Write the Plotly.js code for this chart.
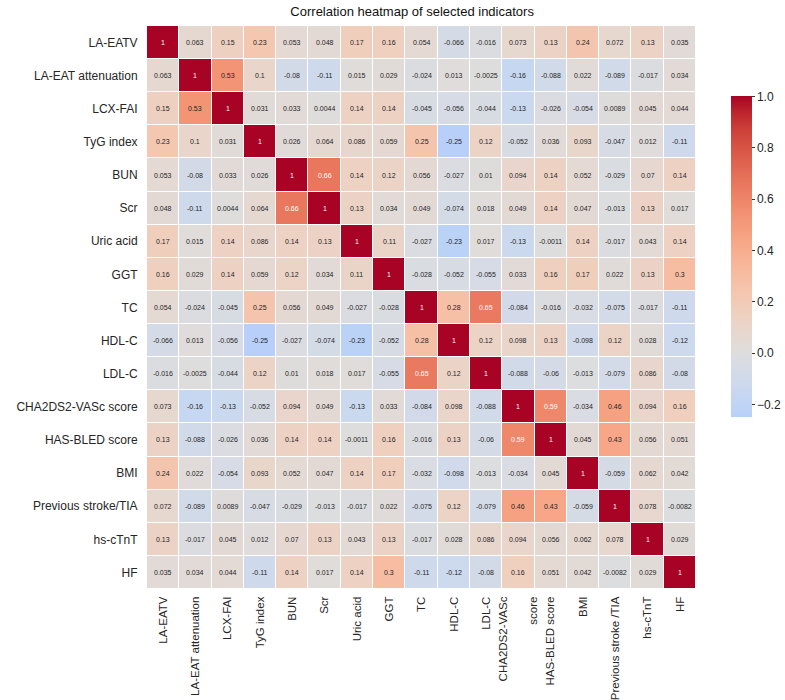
<!DOCTYPE html>
<html>
<head>
<meta charset="utf-8">
<script src="https://cdn.plot.ly/plotly-3.0.1.min.js"></script>
<style>
    body { margin: 0; background: #ffffff; }
    #chart { width: 785px; height: 700px; }
</style>
</head>
<body>
<div id="chart"></div>
<script>
// ---------- Data ---------- //
const rowLabels = [
    "LA-EATV", "LA-EAT attenuation", "LCX-FAI", "TyG index", "BUN", "Scr",
    "Uric acid", "GGT", "TC", "HDL-C", "LDL-C", "CHA2DS2-VASc score",
    "HAS-BLED score", "BMI", "Previous stroke/TIA", "hs-cTnT", "HF"
];

const colLabels = [
    "LA-EATV", "LA-EAT attenuation", "LCX-FAI", "TyG index", "BUN", "Scr",
    "Uric acid", "GGT", "TC", "HDL-C", "LDL-C", "CHA2DS2-VASc<br><br>score",
    "HAS-BLED score", "BMI", "Previous stroke /TIA", "hs-cTnT", "HF"
];

const corrValues = [
    [1, 0.063, 0.15, 0.23, 0.053, 0.048, 0.17, 0.16, 0.054, -0.066, -0.016, 0.073, 0.13, 0.24, 0.072, 0.13, 0.035],
    [0.063, 1, 0.53, 0.1, -0.08, -0.11, 0.015, 0.029, -0.024, 0.013, -0.0025, -0.16, -0.088, 0.022, -0.089, -0.017, 0.034],
    [0.15, 0.53, 1, 0.031, 0.033, 0.0044, 0.14, 0.14, -0.045, -0.056, -0.044, -0.13, -0.026, -0.054, 0.0089, 0.045, 0.044],
    [0.23, 0.1, 0.031, 1, 0.026, 0.064, 0.086, 0.059, 0.25, -0.25, 0.12, -0.052, 0.036, 0.093, -0.047, 0.012, -0.11],
    [0.053, -0.08, 0.033, 0.026, 1, 0.66, 0.14, 0.12, 0.056, -0.027, 0.01, 0.094, 0.14, 0.052, -0.029, 0.07, 0.14],
    [0.048, -0.11, 0.0044, 0.064, 0.66, 1, 0.13, 0.034, 0.049, -0.074, 0.018, 0.049, 0.14, 0.047, -0.013, 0.13, 0.017],
    [0.17, 0.015, 0.14, 0.086, 0.14, 0.13, 1, 0.11, -0.027, -0.23, 0.017, -0.13, -0.0011, 0.14, -0.017, 0.043, 0.14],
    [0.16, 0.029, 0.14, 0.059, 0.12, 0.034, 0.11, 1, -0.028, -0.052, -0.055, 0.033, 0.16, 0.17, 0.022, 0.13, 0.3],
    [0.054, -0.024, -0.045, 0.25, 0.056, 0.049, -0.027, -0.028, 1, 0.28, 0.65, -0.084, -0.016, -0.032, -0.075, -0.017, -0.11],
    [-0.066, 0.013, -0.056, -0.25, -0.027, -0.074, -0.23, -0.052, 0.28, 1, 0.12, 0.098, 0.13, -0.098, 0.12, 0.028, -0.12],
    [-0.016, -0.0025, -0.044, 0.12, 0.01, 0.018, 0.017, -0.055, 0.65, 0.12, 1, -0.088, -0.06, -0.013, -0.079, 0.086, -0.08],
    [0.073, -0.16, -0.13, -0.052, 0.094, 0.049, -0.13, 0.033, -0.084, 0.098, -0.088, 1, 0.59, -0.034, 0.46, 0.094, 0.16],
    [0.13, -0.088, -0.026, 0.036, 0.14, 0.14, -0.0011, 0.16, -0.016, 0.13, -0.06, 0.59, 1, 0.045, 0.43, 0.056, 0.051],
    [0.24, 0.022, -0.054, 0.093, 0.052, 0.047, 0.14, 0.17, -0.032, -0.098, -0.013, -0.034, 0.045, 1, -0.059, 0.062, 0.042],
    [0.072, -0.089, 0.0089, -0.047, -0.029, -0.013, -0.017, 0.022, -0.075, 0.12, -0.079, 0.46, 0.43, -0.059, 1, 0.078, -0.0082],
    [0.13, -0.017, 0.045, 0.012, 0.07, 0.13, 0.043, 0.13, -0.017, 0.028, 0.086, 0.094, 0.056, 0.062, 0.078, 1, 0.029],
    [0.035, 0.034, 0.044, -0.11, 0.14, 0.017, 0.14, 0.3, -0.11, -0.12, -0.08, 0.16, 0.051, 0.042, -0.0082, 0.029, 1]
];

const colorTicks = [-0.2, 0, 0.2, 0.4, 0.6, 0.8, 1.0];

// coolwarm, upper part only (centred on 0, cut at the data minimum)
const coolwarmPart = [
    "rgb(184,208,249)", "rgb(194,213,244)", "rgb(204,217,238)", "rgb(213,219,230)",
    "rgb(221,221,221)", "rgb(229,216,209)", "rgb(236,211,197)", "rgb(241,204,184)",
    "rgb(245,196,172)", "rgb(247,187,159)", "rgb(247,177,147)", "rgb(247,166,134)",
    "rgb(244,154,123)", "rgb(241,141,111)", "rgb(236,127,99)", "rgb(229,112,88)",
    "rgb(222,96,77)", "rgb(213,80,66)", "rgb(203,62,56)", "rgb(188,36,45)",
    "rgb(168,2,36)"
];
// ---------- End of Data ---------- //

const idx = rowLabels.map((_, i) => i);
const colorscale = coolwarmPart.map((c, i) => [i / (coolwarmPart.length - 1), c]);

// seaborn style '.2g' labels
function fmt2g(v) {
    return parseFloat(v.toPrecision(2)).toString();
}

const annotations = [];
corrValues.forEach((row, r) => {
    row.forEach((v, c) => {
        annotations.push({
            x: c,
            y: r,
            xref: 'x',
            yref: 'y',
            text: fmt2g(v),
            showarrow: false,
            font: {
                size: 7,
                family: 'Liberation Sans, Arial, sans-serif',
                color: v > 0.55 ? '#ffffff' : '#262626'
            }
        });
    });
});

const trace = {
    type: 'heatmap',
    x: idx,
    y: idx,
    z: corrValues,
    zmin: -0.25,
    zmax: 1,
    colorscale: colorscale,
    xgap: 1,
    ygap: 1,
    hoverinfo: 'skip',
    colorbar: {
        thickness: 21,
        lenmode: 'pixels',
        len: 321,
        x: 1.064,
        xanchor: 'left',
        xpad: 0,
        y: 0.59,
        yanchor: 'middle',
        ypad: 0,
        outlinewidth: 0,
        tickvals: colorTicks,
        tickformat: '.1f',
        ticks: 'outside',
        ticklen: 3,
        tickwidth: 1,
        tickcolor: '#333333',
        tickfont: { size: 12, color: '#262626' }
    }
};

const layout = {
    width: 785,
    height: 700,
    margin: { t: 26, l: 147, r: 89, b: 111, autoexpand: false },
    paper_bgcolor: '#ffffff',
    plot_bgcolor: '#ffffff',
    font: { family: 'Liberation Sans, Arial, sans-serif', color: '#262626' },
    title: {
        text: 'Correlation heatmap of selected indicators',
        font: { size: 13, color: '#111111' },
        x: 0.525,
        xanchor: 'center',
        y: 0.983,
        yanchor: 'middle'
    },
    xaxis: {
        tickvals: idx,
        ticktext: colLabels,
        tickangle: -90,
        ticks: 'outside',
        ticklen: 2,
        tickcolor: 'rgba(0,0,0,0)',
        tickfont: { size: 11.5 },
        showgrid: false,
        zeroline: false,
        showline: false,
        fixedrange: true
    },
    yaxis: {
        tickvals: idx,
        ticktext: rowLabels,
        autorange: 'reversed',
        ticks: 'outside',
        ticklen: 6,
        tickcolor: 'rgba(0,0,0,0)',
        tickfont: { size: 12 },
        showgrid: false,
        zeroline: false,
        showline: false,
        fixedrange: true
    },
    annotations: annotations
};

Plotly.newPlot('chart', [trace], layout, { displayModeBar: false, responsive: false });
</script>
</body>
</html>
